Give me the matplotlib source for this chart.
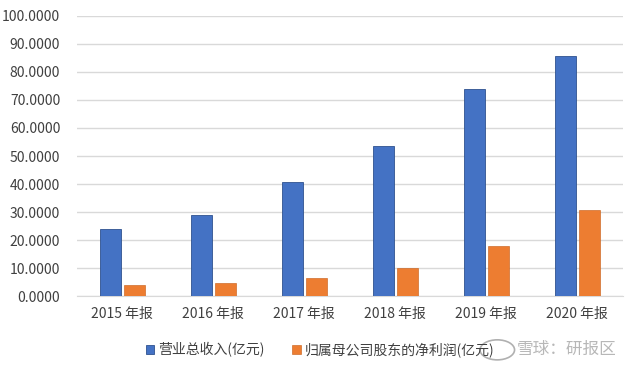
import numpy as np
import matplotlib
matplotlib.use("Agg")
import matplotlib.pyplot as plt
from matplotlib.patches import Circle

plt.rcParams['font.family'] = ['Noto Sans CJK SC', 'DejaVu Sans']

# data
years = ["2015 年报", "2016 年报", "2017 年报", "2018 年报", "2019 年报", "2020 年报"]
revenue = [23.9, 28.8, 40.8, 53.6, 73.8, 85.7]      # 营业总收入(亿元)
net_profit = [3.9, 4.75, 6.5, 10.1, 17.9, 30.6]     # 归属母公司股东的净利润(亿元)
yticks = [0, 10, 20, 30, 40, 50, 60, 70, 80, 90, 100]

BLUE = "#4472C4"
ORANGE = "#ED7D31"

fig = plt.figure(figsize=(6.4, 3.71), dpi=100)
ax = fig.add_axes([0.12, 0.202, 0.853, 0.755])

x = np.arange(len(years))
w = 0.23
gap = 0.03
ax.bar(x - (w + gap) / 2, revenue, w, color=BLUE, edgecolor="#2F528F",
       linewidth=0.6, label="营业总收入(亿元)", zorder=3)
ax.bar(x + (w + gap) / 2, net_profit, w, color=ORANGE, edgecolor="#C55A11",
       linewidth=0.4, label="归属母公司股东的净利润(亿元)", zorder=3)

ax.set_xlim(-0.5, len(years) - 0.5)
ax.set_ylim(0, 100)
ax.set_yticks(yticks)
ax.set_yticklabels([f"{v:.4f}" for v in yticks])
ax.set_xticks(x)
ax.set_xticklabels(years)
ax.tick_params(axis="both", length=0, labelsize=10, colors="#404040")
ax.tick_params(axis="x", pad=8)
ax.tick_params(axis="y", pad=12)
ax.grid(axis="y", color="#D9D9D9", linewidth=1, zorder=0)
for s in ["top", "right", "left"]:
    ax.spines[s].set_visible(False)
ax.spines["bottom"].set_color("#D9D9D9")

leg = fig.legend(loc="center", bbox_to_anchor=(0.5, 0.057), ncol=2, frameon=False,
                 fontsize=10, handlelength=0.6, handleheight=0.6, handletextpad=0.3,
                 columnspacing=2.0, labelcolor="#404040")

# watermark
fig.text(0.808, 0.057, "雪球：研报区", fontsize=12, color="#B0B0B0", alpha=0.9,
         ha="left", va="center")
fig.patches.append(Circle((0.777, 0.057), 0.027, transform=fig.transFigure,
                          fill=False, edgecolor="#B0B0B0", linewidth=1.2))

fig.savefig("out.png", dpi=100)
